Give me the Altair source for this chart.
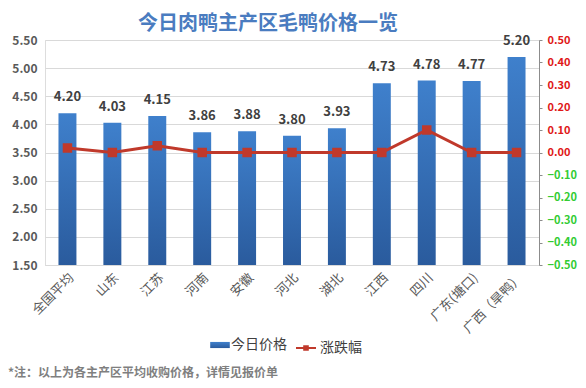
import altair as alt
import pandas as pd

categories = ["全国平均", "山东", "江苏", "河南", "安徽", "河北", "湖北", "江西", "四川", "广东(塘口)", "广西（旱鸭）"]
prices = [4.20, 4.03, 4.15, 3.86, 3.88, 3.80, 3.93, 4.73, 4.78, 4.77, 5.20]
changes = [0.02, 0.00, 0.03, 0.00, 0.00, 0.00, 0.00, 0.00, 0.10, 0.00, 0.00]
left_ticks = [1.5, 2.0, 2.5, 3.0, 3.5, 4.0, 4.5, 5.0, 5.5]
right_ticks = [-0.5, -0.4, -0.3, -0.2, -0.1, 0.0, 0.1, 0.2, 0.3, 0.4, 0.5]

df = pd.DataFrame({"cat": categories, "price": prices, "change": changes})
df["s1"] = "今日价格"
df["s2"] = "涨跌幅"

FONT = "Noto Sans CJK SC"

x_axis = alt.Axis(labelAngle=-45, ticks=False, domainColor="#d9d9d9",
                  labelColor="#595959", labelFontSize=13, labelFont=FONT,
                  labelPadding=6, labelOverlap=False)
x_scale = alt.Scale(paddingInner=0.6, paddingOuter=0.3)

yscale = alt.Scale(domain=[1.5, 5.5], zero=False)
left_axis = alt.Axis(values=left_ticks, format=".2f", domain=False, ticks=False,
                     gridColor="#d9d9d9", labelColor="#595959", labelFontSize=12,
                     labelFontWeight="bold", labelFont=FONT, labelPadding=8,
                     labelOverlap=False, tickCount=9)

grad = alt.Gradient(gradient="linear",
                    stops=[alt.GradientStop(color="#3f80cc", offset=0),
                           alt.GradientStop(color="#2a5b9d", offset=1)],
                    x1=0, x2=0, y1=0, y2=1)

bars = alt.Chart(df).mark_bar(color=grad).encode(
    x=alt.X("cat:N", sort=categories, title=None, scale=x_scale, axis=x_axis),
    y=alt.Y("price:Q", scale=yscale, title=None, axis=left_axis),
    y2=alt.datum(1.5),
    opacity=alt.Opacity("s1:N", scale=alt.Scale(range=[1]),
                        legend=alt.Legend(title=None, orient="none", legendX=168, legendY=298,
                                          symbolType="M-1.6,-0.5H1.6V0.5H-1.6Z",
                                          symbolFillColor="#2e64ad", symbolStrokeWidth=0,
                                          symbolSize=150, labelFontSize=14, labelFont=FONT,
                                          labelColor="#404040")),
)

labels = alt.Chart(df).mark_text(dy=-16, baseline="middle", fontSize=13, fontWeight="bold",
                                 color="#404040", font=FONT).encode(
    x=alt.X("cat:N", sort=categories, title=None, scale=x_scale, axis=x_axis),
    y=alt.Y("price:Q", scale=yscale, title=None, axis=left_axis),
    text=alt.Text("price:Q", format=".2f"),
)

line = alt.Chart(df).mark_line(strokeWidth=3,
                               point=alt.OverlayMarkDef(shape="square", size=90, filled=True)).encode(
    x=alt.X("cat:N", sort=categories, title=None, scale=x_scale, axis=x_axis),
    y=alt.Y("change:Q", scale=alt.Scale(domain=[-0.5, 0.5]), title=None,
            axis=alt.Axis(orient="right", values=right_ticks, format=".2f", grid=False,
                          domainColor="#8c8c8c", tickColor="#8c8c8c", tickSize=3,
                          labelFontSize=11, labelFontWeight="bold", labelFont=FONT,
                          labelPadding=5, labelOverlap=False,
                          labelColor=alt.ConditionalAxisColor(
                              condition={"test": "datum.value < 0", "value": "#33cc33"},
                              value="#e01818"))),
    color=alt.Color("s2:N", scale=alt.Scale(range=["#c0392b"]),
                    legend=alt.Legend(title=None, orient="none", legendX=251, legendY=298,
                                      symbolType="M-1,-0.1H1V0.1H-1Z M-0.28,-0.28H0.28V0.28H-0.28Z",
                                      symbolSize=400, symbolStrokeWidth=0,
                                      symbolFillColor="#b5403e",
                                      labelFontSize=14, labelFont=FONT, labelColor="#404040")),
)

note = alt.Chart(pd.DataFrame({"t": ["*注：以上为各主产区平均收购价格，详情见报价单"]})).mark_text(
    align="left", baseline="middle", fontSize=12, color="#7f7f7f", font=FONT, fontWeight="bold"
).encode(x=alt.value(-37), y=alt.value(333), text="t:N")

chart = alt.layer(alt.layer(bars, labels), line, note).resolve_scale(
    y="independent", color="independent", opacity="independent"
).properties(
    width=494, height=225,
    padding={"left": 37, "top": 32, "right": 39, "bottom": 115},
    autosize=alt.AutoSizeParams(type="none"),
    title=alt.Title("今日肉鸭主产区毛鸭价格一览", fontSize=20, fontWeight="bold",
                    color="#4a7cc0", font=FONT, anchor="middle", dx=-24, offset=0),
).configure_view(stroke=None).configure(background="white")

chart.save("out.html", embed_options={"renderer": "svg", "actions": False})
